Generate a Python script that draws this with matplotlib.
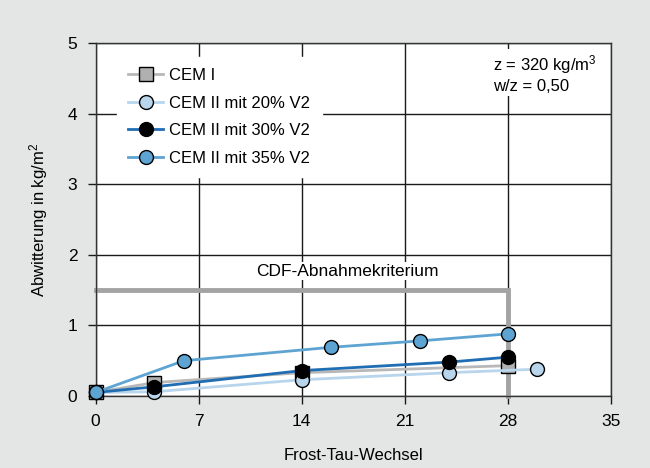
import matplotlib
matplotlib.use("Agg")
import matplotlib.pyplot as plt

# ---- data ----
cem1_x = [0, 4, 14, 28]
cem1_y = [0.05, 0.19, 0.33, 0.43]
v20_x = [0, 4, 14, 24, 30]
v20_y = [0.05, 0.06, 0.23, 0.33, 0.38]
v30_x = [0, 4, 14, 24, 28]
v30_y = [0.05, 0.13, 0.36, 0.48, 0.55]
v35_x = [0, 6, 16, 22, 28]
v35_y = [0.05, 0.50, 0.69, 0.78, 0.88]
cdf_x = [0, 28, 28]
cdf_y = [1.5, 1.5, 0]
labels = ["CEM I", "CEM II mit 20% V2", "CEM II mit 30% V2", "CEM II mit 35% V2"]
xticks = [0, 7, 14, 21, 28, 35]
yticks = [0, 1, 2, 3, 4, 5]

plt.rcParams['font.family'] = ['Liberation Sans', 'DejaVu Sans']
plt.rcParams['mathtext.fontset'] = 'custom'
plt.rcParams['mathtext.rm'] = 'Liberation Sans'
plt.rcParams['mathtext.it'] = 'Liberation Sans'
FS = 11.5

bg = '#e4e5e5'
fig = plt.figure(figsize=(6.5, 4.68), dpi=100, facecolor=bg)
ax = fig.add_axes([95.5/650, (468-396)/468, (611-95.5)/650, (396-43)/468])
ax.set_facecolor('white')

ax.set_xlim(0, 35)
ax.set_ylim(0, 5)
ax.set_xticks(xticks)
ax.set_yticks(yticks)
ax.grid(True, color='#1a1a1a', linewidth=1.0)
ax.set_axisbelow(True)
for s in ax.spines.values():
    s.set_color('#333333')
    s.set_linewidth(1.0)
ax.tick_params(direction='out', length=6, width=1.0, color='#1a1a1a', labelsize=FS + 1, pad=7)

ax.plot(cdf_x, cdf_y, color='#a3a3a3', linewidth=3.5, solid_joinstyle='miter', zorder=2, clip_on=False)

ms = 10
ax.plot(cem1_x, cem1_y, color='#b8b8b8', linewidth=2, marker='s', markersize=ms, markerfacecolor='#b0b0b0',
        markeredgecolor='black', markeredgewidth=1, label=labels[0], zorder=3, clip_on=False)
ax.plot(v20_x, v20_y, color='#b8d5ec', linewidth=2, marker='o', markersize=ms, markerfacecolor='#b8d5ec',
        markeredgecolor='black', markeredgewidth=1, label=labels[1], zorder=4, clip_on=False)
ax.plot(v30_x, v30_y, color='#1f6db3', linewidth=2, marker='o', markersize=ms, markerfacecolor='black',
        markeredgecolor='black', markeredgewidth=1, label=labels[2], zorder=5, clip_on=False)
ax.plot(v35_x, v35_y, color='#5ea4d2', linewidth=2, marker='o', markersize=ms, markerfacecolor='#5ea4d2',
        markeredgecolor='black', markeredgewidth=1, label=labels[3], zorder=6, clip_on=False)

leg = ax.legend(loc='upper left', bbox_to_anchor=(0.025, 0.985), frameon=True, fontsize=FS + 0.5,
                handlelength=2.1, handletextpad=0.35, labelspacing=0.75, borderpad=0.7, fancybox=False)
leg.get_frame().set_facecolor('white')
leg.get_frame().set_edgecolor('white')
leg.get_frame().set_alpha(1)

ax.text(17.1, 1.77, "CDF-Abnahmekriterium", ha='center', va='center', fontsize=FS + 1,
        bbox=dict(facecolor='white', edgecolor='none', pad=1), zorder=3)
ax.text(27.0, 4.86, "z = 320 kg/m$^3$\nw/z = 0,50", ha='left', va='top', fontsize=FS + 0.5, linespacing=1.3,
        bbox=dict(facecolor='white', edgecolor='none', pad=1), zorder=3)

ax.set_xlabel("Frost-Tau-Wechsel", fontsize=FS + 0.5, labelpad=14)
ax.set_ylabel("Abwitterung in kg/m$^2$", fontsize=FS + 0.5, labelpad=13)

fig.savefig("out.png", dpi=100, facecolor=bg)
